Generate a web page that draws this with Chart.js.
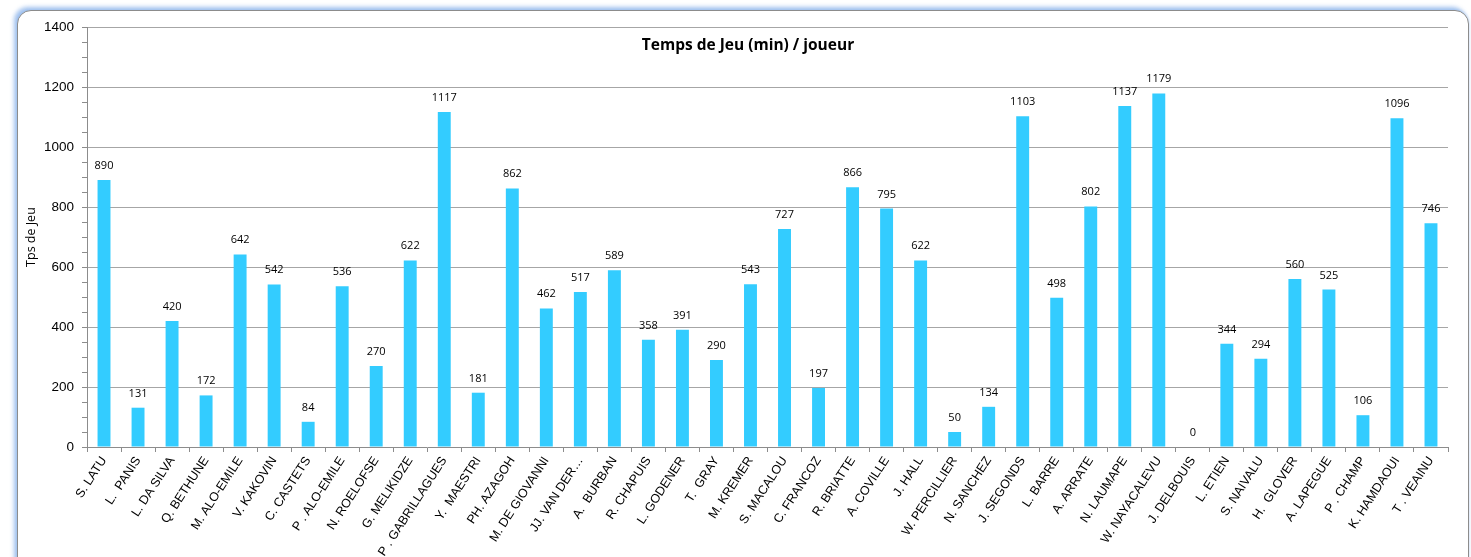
<!DOCTYPE html>
<html>
<head>
<meta charset="utf-8">
<script src="https://cdn.jsdelivr.net/npm/chart.js@4"></script>
<style>
  html, body { margin: 0; padding: 0; background: #fff; overflow: hidden; }
  #box {
    position: absolute; left: 17px; top: 10px; width: 1450px; height: 600px;
    border: 1px solid #8c8c8c; border-radius: 14px; background: #fff;
    box-shadow: -3px -3px 4px rgba(140, 180, 235, 0.8), 0 0 3px rgba(170, 200, 240, 0.7);
    overflow: hidden;
  }
  #wrap { position: absolute; left: 0; top: 0; width: 1450px; height: 560px; }
</style>
</head>
<body>
<div id="box"><div id="wrap"><canvas id="bar-chart"></canvas></div></div>
<script>
var players = ['S. LATU', 'L.  PANIS', 'L. DA SILVA', 'Q. BETHUNE', 'M. ALO-EMILE', 'V. KAKOVIN',
    'C. CASTETS', 'P . ALO-EMILE', 'N. ROELOFSE', 'G. MELIKIDZE', 'P . GABRILLAGUES', 'Y.  MAESTRI',
    'PH. AZAGOH', 'M. DE GIOVANNI', 'JJ. VAN DER…', 'A.  BURBAN', 'R. CHAPUIS', 'L. GODENER',
    'T.  GRAY', 'M. KREMER', 'S. MACALOU', 'C. FRANCOZ', 'R. BRIATTE', 'A. COVILLE', 'J. HALL',
    'W. PERCILLIER', 'N. SANCHEZ', 'J. SEGONDS', 'L. BARRE', 'A. ARRATE', 'N. LAUMAPE',
    'W. NAYACALEVU', 'J. DELBOUIS', 'L. ETIEN', 'S. NAIVALU', 'H.  GLOVER', 'A. LAPEGUE',
    'P . CHAMP', 'K. HAMDAOUI', 'T . VEAINU'];
var minutes = [890, 131, 420, 172, 642, 542, 84, 536, 270, 622, 1117, 181, 862, 462, 517, 589,
    358, 391, 290, 543, 727, 197, 866, 795, 622, 50, 134, 1103, 498, 802, 1137, 1179, 0, 344,
    294, 560, 525, 106, 1096, 746];
var chartTitle = 'Temps de Jeu (min) / joueur';
var yTitle = 'Tps de Jeu';

// values above bars + title inside the plot
var labelsPlugin = {
    id: 'valueLabels',
    afterDatasetsDraw: function(chart) {
        var ctx = chart.ctx;
        var meta = chart.getDatasetMeta(0);
        ctx.save();
        ctx.fillStyle = '#000';
        ctx.font = '11px "Open Sans", sans-serif';
        ctx.textAlign = 'center';
        ctx.textBaseline = 'alphabetic';
        meta.data.forEach(function(bar, i) {
            ctx.fillText(String(minutes[i]), bar.x, bar.y - 11);
        });
        ctx.font = 'bold 15.5px "Open Sans", sans-serif';
        ctx.textBaseline = 'middle';
        ctx.fillText(chartTitle, 730, 35);
        ctx.restore();
    }
};

var ctx = document.getElementById('bar-chart').getContext('2d');
var barChart = new Chart(ctx, {
    type: 'bar',
    data: {
        labels: players,
        datasets: [{
            data: minutes,
            backgroundColor: '#33ccff',
            barPercentage: 0.38,
            categoryPercentage: 1
        }]
    },
    options: {
        responsive: true,
        maintainAspectRatio: false,
        animation: false,
        layout: { padding: { left: 0, right: 20, top: 15, bottom: 0 } },
        scales: {
            x: {
                grid: { offset: true, drawOnChartArea: false, tickLength: 5, tickColor: '#8c8c8c' },
                border: { color: '#8c8c8c' },
                ticks: {
                    color: '#000', autoSkip: false, minRotation: 57, maxRotation: 57, padding: 2,
                    font: { family: '"Liberation Sans", Arial, sans-serif', size: 12.5 }
                },
                afterFit: function(scale) { scale.height = 124; }
            },
            y: {
                min: 0,
                max: 1400,
                grid: {
                    tickLength: 5,
                    tickColor: '#8c8c8c',
                    color: function(c) {
                        return c.tick && c.tick.value % 200 === 0 && c.tick.value > 0 ? '#a6a6a6' : 'rgba(0,0,0,0)';
                    }
                },
                border: { color: '#8c8c8c' },
                ticks: {
                    stepSize: 50, autoSkip: false, color: '#000', padding: 8,
                    font: { family: '"Liberation Sans", Arial, sans-serif', size: 13.5 },
                    callback: function(v) { return v % 200 === 0 ? v : ''; }
                },
                title: {
                    display: true, text: yTitle, color: '#000', padding: { top: 6, bottom: 0 },
                    font: { family: '"Open Sans", sans-serif', size: 12.5 }
                },
                afterFit: function(scale) { scale.width = 69; }
            }
        },
        plugins: {
            legend: { display: false },
            tooltip: { enabled: false }
        }
    },
    plugins: [labelsPlugin]
});
</script>
</body>
</html>
